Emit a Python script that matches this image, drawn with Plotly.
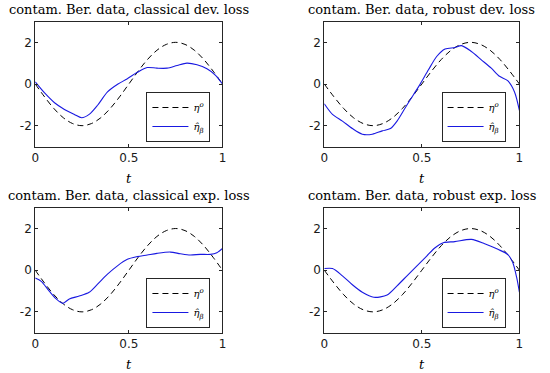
import plotly.graph_objects as go

# ---------------- data ----------------
T_TRUE = [0.0, 0.05, 0.10, 0.15, 0.20, 0.25, 0.30, 0.35, 0.40, 0.45, 0.50,
          0.55, 0.60, 0.65, 0.70, 0.75, 0.80, 0.85, 0.90, 0.95, 1.0]
ETA_TRUE = [0.0, -0.62, -1.18, -1.62, -1.90, -2.0, -1.90, -1.62, -1.18, -0.62, 0.0,
            0.62, 1.18, 1.62, 1.90, 2.0, 1.90, 1.62, 1.18, 0.62, 0.0]

T_CD = [0.0, 0.05, 0.103, 0.156, 0.209, 0.248, 0.288, 0.333, 0.386, 0.442, 0.49,
        0.545, 0.598, 0.65, 0.704, 0.758, 0.81, 0.864, 0.917, 0.96, 1.0]
ETA_CD = [0.10, -0.43, -0.90, -1.22, -1.46, -1.62, -1.46, -1.02, -0.38, 0.0, 0.24,
          0.56, 0.79, 0.76, 0.76, 0.89, 1.0, 0.92, 0.73, 0.44, 0.0]

T_RD = [0.0, 0.042, 0.093, 0.144, 0.195, 0.246, 0.297, 0.339, 0.373, 0.415, 0.458,
        0.49, 0.534, 0.576, 0.619, 0.669, 0.703, 0.754, 0.805, 0.856, 0.898, 0.94,
        0.975, 1.0]
ETA_RD = [-0.95, -1.46, -1.78, -2.14, -2.41, -2.41, -2.25, -2.14, -1.78, -1.14, -0.50,
          -0.03, 0.68, 1.32, 1.68, 1.75, 1.84, 1.56, 1.16, 0.76, 0.37, 0.16,
          -0.38, -1.27]

T_CE = [0.0, 0.032, 0.076, 0.112, 0.147, 0.182, 0.235, 0.288, 0.333, 0.386, 0.439,
        0.492, 0.545, 0.598, 0.65, 0.722, 0.775, 0.828, 0.881, 0.935, 0.97, 1.0]
ETA_CE = [-0.38, -0.54, -1.02, -1.38, -1.59, -1.38, -1.24, -1.06, -0.67, -0.19, 0.21,
          0.52, 0.65, 0.73, 0.81, 0.87, 0.79, 0.73, 0.76, 0.76, 0.84, 1.05]

T_RE = [0.0, 0.042, 0.093, 0.144, 0.195, 0.254, 0.322, 0.373, 0.424, 0.475, 0.525,
        0.568, 0.61, 0.669, 0.754, 0.822, 0.89, 0.94, 0.966, 0.986, 1.0]
ETA_RE = [0.08, 0.08, -0.27, -0.70, -1.06, -1.30, -1.19, -0.75, -0.27, 0.21, 0.68,
          1.08, 1.32, 1.37, 1.48, 1.27, 1.00, 0.76, 0.37, -0.35, -1.06]

TITLES = ["contam. Ber. data, classical dev. loss",
          "contam. Ber. data, robust dev. loss",
          "contam. Ber. data, classical exp. loss",
          "contam. Ber. data, robust exp. loss"]
X_TICKS = [0, 0.5, 1]
X_TICK_TEXT = ["0", "0.5", "1"]
Y_TICKS = [-2, 0, 2]
Y_TICK_TEXT = ["-2", "0", "2"]
NAME_TRUE = "<i>η</i><sup><i>o</i></sup>"
NAME_EST = "<i>η̂</i><sub><i>β</i></sub>"

ESTIMATES = [(T_CD, ETA_CD), (T_RD, ETA_RD), (T_CE, ETA_CE), (T_RE, ETA_RE)]

# ---------------- layout geometry ----------------
W, H = 550, 373
XDOM = [[31.7 / W, 221.7 / W], [325.0 / W, 523.0 / W]]
YDOM = [[(H - 146.5) / H, (H - 21.5) / H], [(H - 332.7) / H, (H - 207.7) / H]]

AX_COLOR = "#262626"
BLUE = "rgb(25,25,225)"
SERIF = "DejaVu Serif"
SANS = "DejaVu Sans"

fig = go.Figure()
layout = dict(width=W, height=H, margin=dict(l=0, r=0, t=0, b=0),
              plot_bgcolor="white", paper_bgcolor="white", showlegend=True)
annotations = []

for i in range(4):
    r, c = divmod(i, 2)
    n = i + 1
    xa = "x" if n == 1 else f"x{n}"
    ya = "y" if n == 1 else f"y{n}"
    lg = "legend" if n == 1 else f"legend{n}"
    fig.add_trace(go.Scatter(x=T_TRUE, y=ETA_TRUE, mode="lines", name=NAME_TRUE,
                             line=dict(color="black", width=1, dash="6px,4px", shape="spline"),
                             xaxis=xa, yaxis=ya, legend=lg))
    tx, ty = ESTIMATES[i]
    fig.add_trace(go.Scatter(x=tx, y=ty, mode="lines", name=NAME_EST,
                             line=dict(color=BLUE, width=1.1, shape="spline", smoothing=0.8),
                             xaxis=xa, yaxis=ya, legend=lg))
    axbase = dict(showline=True, linecolor=AX_COLOR, linewidth=1, mirror="ticks",
                  ticks="inside", ticklen=3, tickcolor=AX_COLOR, showgrid=False,
                  zeroline=False, tickfont=dict(family=SANS, size=12, color="#1a1a1a"))
    layout["xaxis" if n == 1 else f"xaxis{n}"] = dict(
        axbase, domain=XDOM[c], range=[0, 1], tickvals=X_TICKS, ticktext=X_TICK_TEXT,
        anchor=ya)
    layout["yaxis" if n == 1 else f"yaxis{n}"] = dict(
        axbase, domain=YDOM[r], range=[-3, 3], tickvals=Y_TICKS, ticktext=Y_TICK_TEXT,
        anchor=xa)
    lx = (177.0 if c == 0 else 476.5) / W
    ly = (H - (117.0 if r == 0 else 303.0)) / H
    layout[lg] = dict(x=lx, y=ly, xanchor="center", yanchor="middle",
                      bgcolor="white", bordercolor=AX_COLOR, borderwidth=1,
                      font=dict(family=SERIF, size=10, color="black"),
                      tracegroupgap=0, itemwidth=36)
    xc = (XDOM[c][0] + XDOM[c][1]) / 2
    title_y = 9.5 if r == 0 else 195.5
    annotations.append(dict(text=TITLES[i], x=xc, y=(H - title_y) / H, xref="paper",
                            yref="paper", xanchor="center", yanchor="middle",
                            showarrow=False, font=dict(family=SERIF, size=13, color="black")))
    t_y = 178.0 if r == 0 else 364.0
    annotations.append(dict(text="<i>t</i>", x=xc, y=(H - t_y) / H, xref="paper",
                            yref="paper", xanchor="center", yanchor="middle",
                            showarrow=False, font=dict(family=SERIF, size=13, color="black")))

layout["annotations"] = annotations
fig.update_layout(**layout)
fig.write_html("out.html", config={"displayModeBar": False},
               post_script="document.body.style.margin='0';document.body.style.padding='0';")
